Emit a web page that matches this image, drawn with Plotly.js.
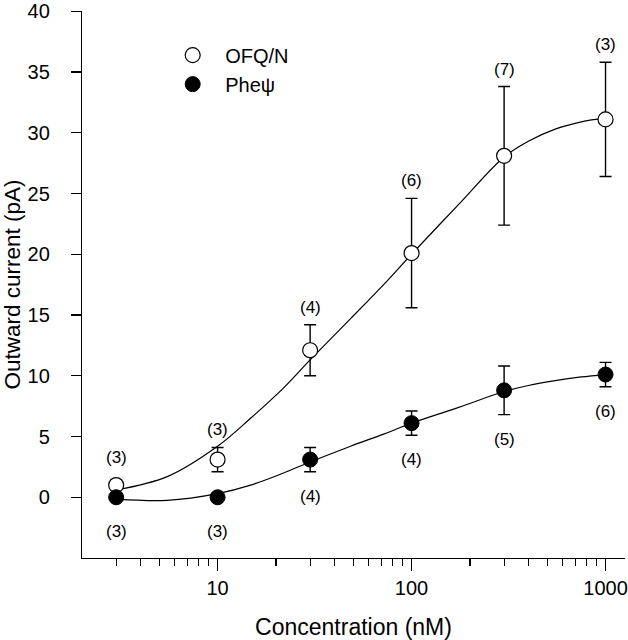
<!DOCTYPE html>
<html>
<head>
<meta charset="utf-8">
<script src="https://cdn.plot.ly/plotly-3.0.1.min.js"></script>
<style>html,body{margin:0;padding:0;background:#fff;}#chart{width:628px;height:640px;}</style>
</head>
<body>
<div id="chart"></div>
<script>
// ---- data ----
var concentrations = [3, 10, 30, 100, 300, 1000];
var ofqMean = [1.0, 3.1, 12.1, 20.1, 28.1, 31.1];
var ofqErr  = [0.4, 1.0, 2.1, 4.5, 5.7, 4.7];
var ofqN    = ['(3)', '(3)', '(4)', '(6)', '(7)', '(3)'];
var pheMean = [0.0, 0.0, 3.1, 6.1, 8.8, 10.1];
var pheErr  = [0.0, 0.0, 1.0, 1.0, 2.0, 1.0];
var pheN    = ['(3)', '(3)', '(4)', '(4)', '(5)', '(6)'];
// fitted curves at intermediate concentrations
var curveConc = [3, 5.5, 10, 14.8, 21.9, 30, 48.5, 71.8, 100, 175, 300, 400, 550, 750, 1000];
var ofqCurve  = [0.6, 1.7, 4.2, 6.5, 9.0, 11.3, 14.7, 17.5, 20.0, 24.1, 28.0, 29.3, 30.3, 30.9, 31.2];
var pheCurve  = [-0.15, -0.25, 0.3, 1.0, 2.0, 2.9, 4.2, 5.2, 6.1, 7.4, 8.7, 9.2, 9.6, 9.9, 10.1];
var yTicks = [0, 5, 10, 15, 20, 25, 30, 35, 40];
var xTicks = [10, 100, 1000];
var xMinorTicks = [3,4,5,6,7,8,9,20,30,40,50,60,70,80,90,200,300,400,500,600,700,800,900];
var seriesNames = ['OFQ/N', 'Phe\u03C8'];

var FONT = 'Liberation Sans, Arial, Helvetica, sans-serif';
var BLACK = '#000000';

var traces = [
  {x: curveConc, y: ofqCurve, mode: 'lines', line: {color: BLACK, width: 1.2, shape: 'spline', smoothing: 1}, showlegend: false, hoverinfo: 'skip'},
  {x: curveConc, y: pheCurve, mode: 'lines', line: {color: BLACK, width: 1.2, shape: 'spline', smoothing: 1}, showlegend: false, hoverinfo: 'skip'},
  {x: concentrations, y: ofqMean, mode: 'markers', showlegend: false,
   error_y: {type: 'data', array: ofqErr, visible: true, color: BLACK, thickness: 1.4, width: 6},
   marker: {symbol: 'circle', size: 15, color: '#ffffff', line: {color: BLACK, width: 1.2}}},
  {x: concentrations, y: pheMean, mode: 'markers', showlegend: false,
   error_y: {type: 'data', array: pheErr, visible: true, color: BLACK, thickness: 1.4, width: 6},
   marker: {symbol: 'circle', size: 15, color: BLACK, line: {color: BLACK, width: 1}}},
  {x: [null], y: [null], mode: 'markers', name: seriesNames[0],
   marker: {symbol: 'circle', size: 15, color: '#ffffff', line: {color: BLACK, width: 1.2}}},
  {x: [null], y: [null], mode: 'markers', name: seriesNames[1],
   marker: {symbol: 'circle', size: 15, color: BLACK, line: {color: BLACK, width: 1}}}
];

var annotations = [];
concentrations.forEach(function (c, i) {
  annotations.push({x: Math.log10(c), y: Math.max(ofqMean[i] + ofqErr[i], ofqMean[i] + 0.8),
    text: ofqN[i], showarrow: false, yanchor: 'bottom', yshift: 6,
    font: {family: FONT, size: 17, color: BLACK}});
  annotations.push({x: Math.log10(c), y: Math.min(pheMean[i] - pheErr[i], pheMean[i] - 0.8),
    text: pheN[i], showarrow: false, yanchor: 'top', yshift: -13,
    font: {family: FONT, size: 17, color: BLACK}});
});

var layout = {
  width: 628, height: 640,
  margin: {l: 82, r: 3, t: 11, b: 82},
  paper_bgcolor: '#ffffff', plot_bgcolor: '#ffffff',
  font: {family: FONT, size: 20, color: BLACK},
  showlegend: true,
  legend: {x: 0.144, y: 0.955, xanchor: 'left', yanchor: 'top', bgcolor: 'rgba(0,0,0,0)',
           borderwidth: 0, itemwidth: 55, font: {family: FONT, size: 20, color: BLACK}, tracegroupgap: 0},
  xaxis: {
    type: 'log', range: [Math.log10(2.0), Math.log10(1260)],
    showgrid: false, zeroline: false, showline: true, linecolor: BLACK, linewidth: 1.2,
    ticks: 'outside', ticklen: 12, tickwidth: 1.2, tickcolor: BLACK,
    tickmode: 'array', tickvals: xTicks, ticktext: xTicks.map(String),
    tickfont: {family: FONT, size: 20, color: BLACK},
    minor: {tickmode: 'array', tickvals: xMinorTicks, ticks: 'outside', ticklen: 7, tickwidth: 1.1, tickcolor: BLACK, showgrid: false},
    title: {text: 'Concentration (nM)', font: {family: FONT, size: 23, color: BLACK}, standoff: 20}
  },
  yaxis: {
    range: [-5, 40.02],
    showgrid: false, zeroline: false, showline: true, linecolor: BLACK, linewidth: 1.2,
    ticks: 'outside', ticklen: 10, tickwidth: 1.2, tickcolor: BLACK,
    tickmode: 'array', tickvals: yTicks, ticktext: yTicks.map(String),
    ticklabelstandoff: 17, ticklabeloverflow: 'allow',
    tickfont: {family: FONT, size: 20, color: BLACK},
    title: {text: 'Outward current (pA)', font: {family: FONT, size: 22.5, color: BLACK}, standoff: 8}
  },
  annotations: annotations
};

Plotly.newPlot('chart', traces, layout, {staticPlot: true, displayModeBar: false});
</script>
</body>
</html>
